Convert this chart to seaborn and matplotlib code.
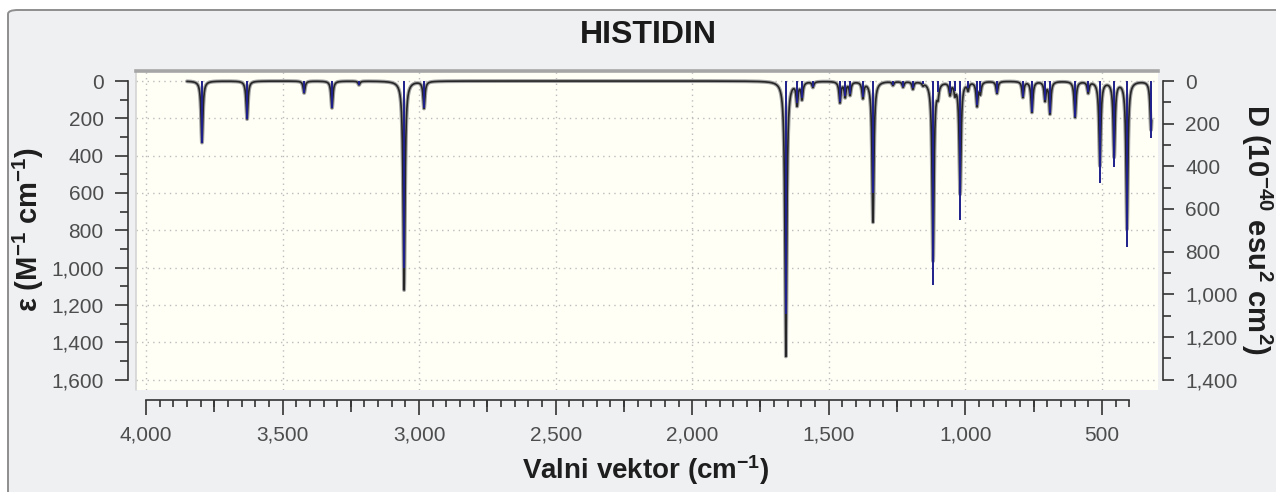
import numpy as np
import pandas as pd
import matplotlib
matplotlib.use("Agg")
import matplotlib.pyplot as plt
import matplotlib.ticker as mticker
from matplotlib.patches import FancyBboxPatch
import seaborn as sns

# ---------------- data ----------------
title = "HISTIDIN"
x_label = r"Valni vektor (cm$^{\mathbf{-1}}$)"
y_label_left = r"ε (M$^{\mathbf{-1}}$ cm$^{\mathbf{-1}}$)"
y_label_right = r"D (10$^{\mathbf{-40}}$ esu$^{\mathbf{2}}$ cm$^{\mathbf{2}}$)"

peak_wavenumbers = [3795, 3630, 3421, 3319, 3220, 3055, 2982,
                    1657, 1616, 1598, 1558, 1459, 1440, 1422, 1375, 1338,
                    1265, 1228, 1192, 1155, 1118, 1100, 1056, 1038, 1019,
                    990, 957, 945, 884, 789, 756, 708, 690, 598, 550,
                    507, 455, 408, 320]
curve_eps = [330, 204, 64, 144, 20, 1120, 144,
             1474, 118, 90, 30, 112, 80, 70, 85, 755,
             20, 30, 40, 15, 960, 60, 65, 55, 600,
             40, 128, 60, 65, 85, 165, 100, 172, 193, 60,
             450, 400, 790, 260]
stick_eps = [330, 204, 64, 144, 20, 1000, 144,
             1250, 118, 90, 30, 112, 80, 70, 85, 600,
             20, 30, 40, 15, 1093, 60, 65, 55, 745,
             40, 128, 60, 65, 85, 165, 100, 172, 193, 60,
             545, 460, 890, 305]
spectrum_range = [3850, 318]
line_halfwidth = 4.0

x_major_ticks = [4000, 3500, 3000, 2500, 2000, 1500, 1000, 500]
x_mid_ticks = [3750, 3250, 2750, 2250, 1750, 1250, 750]
y_left_ticks = [0, 200, 400, 600, 800, 1000, 1200, 1400, 1600]
y_right_ticks = [0, 200, 400, 600, 800, 1000, 1200, 1400]

# ---------------- style ----------------
sns.set_style("white")
plt.rcParams["font.family"] = ["Liberation Sans", "DejaVu Sans"]
plt.rcParams["mathtext.fontset"] = "custom"
plt.rcParams["mathtext.rm"] = "Liberation Sans"
plt.rcParams["mathtext.bf"] = "Liberation Sans:bold"
plt.rcParams["mathtext.it"] = "Liberation Sans:italic"

W, H = 1276, 492
def fx(px):
    return px / W
def fy(py):
    return 1 - py / H

fig = plt.figure(figsize=(W / 100, H / 100), dpi=100)
fig.patch.set_facecolor("white")
frame = FancyBboxPatch((fx(8), -0.1), 1.2, fy(10) + 0.1,
                       boxstyle="round,pad=0,rounding_size=0.008",
                       transform=fig.transFigure, facecolor="#eef0f2",
                       edgecolor="#8e8e8e", lw=1.4, zorder=-5)
fig.patches.append(frame)

ax = fig.add_axes([fx(136), fy(390), fx(1158) - fx(136), fy(71) - fy(390)])
ax.set_facecolor("#fffff6")

# spectrum curve (Lorentzian broadening of the read peaks)
wn = np.linspace(spectrum_range[0], spectrum_range[1], 14000)
pos = np.array(peak_wavenumbers, dtype=float)[:, None]
amp = np.array(curve_eps, dtype=float)[:, None]
curve = (amp * line_halfwidth ** 2 / ((wn - pos) ** 2 + line_halfwidth ** 2)).sum(axis=0)
df = pd.DataFrame({"wn": wn, "eps": curve})
sns.lineplot(data=df, x="wn", y="eps", ax=ax, color="#a2a2a2", lw=2.8,
             sort=False, estimator=None, zorder=2)
sns.lineplot(data=df, x="wn", y="eps", ax=ax, color="#262626", lw=1.2,
             sort=False, estimator=None, zorder=3)
ax.vlines(peak_wavenumbers, 0, stick_eps, color="#1f1f8c", lw=1.4, zorder=4)

ax.set_xlabel("")
ax.set_ylabel("")
ax.set_xlim(4036.6, 294.4)
ax.set_ylim(1656, -53.6)

ax.set_xticks(x_major_ticks)
ax.set_xticks(np.arange(400, 4001, 50), minor=True)
ax.set_yticks(y_left_ticks)
ax.set_yticks(np.arange(0, 1601, 100), minor=True)
fmt = mticker.StrMethodFormatter("{x:,.0f}")
ax.xaxis.set_major_formatter(fmt)
ax.yaxis.set_major_formatter(fmt)

ax.grid(True, which="major", color="#bcbcbc", linestyle=(0, (1, 3)), lw=1.0)
ax.set_axisbelow(True)

spine_c = "#333333"
for s in ["left", "bottom"]:
    ax.spines[s].set_color(spine_c)
    ax.spines[s].set_linewidth(1.2)
ax.spines["left"].set_position(("outward", 5.8))
ax.spines["left"].set_bounds(0, 1600)
ax.spines["bottom"].set_position(("outward", 7.2))
ax.spines["bottom"].set_bounds(400, 4000)
ax.spines["right"].set_visible(False)
ax.spines["top"].set_color("#a6a6a6")
ax.spines["top"].set_linewidth(2.6)
ax.plot([0, 0], [0, 1], transform=ax.transAxes, color="#d4d4d4", lw=1.2, clip_on=False)

ax.tick_params(axis="y", which="major", direction="out", length=9.5, width=1.2,
               color=spine_c, labelsize=15, labelcolor="#4d4d4d", pad=8)
ax.tick_params(axis="y", which="minor", direction="out", length=6, width=1.2, color=spine_c)
ax.tick_params(axis="x", which="major", direction="out", length=10.5, width=1.2,
               color=spine_c, labelsize=15, labelcolor="#4d4d4d", pad=8)
ax.tick_params(axis="x", which="minor", direction="out", length=5, width=1.2, color=spine_c)

# medium ticks on the bottom axis
ax3 = ax.twiny()
ax3.set_xlim(ax.get_xlim())
ax3.xaxis.set_ticks_position("bottom")
ax3.spines["bottom"].set_position(("outward", 7.2))
for s in ax3.spines.values():
    s.set_visible(False)
ax3.set_xticks(x_mid_ticks)
ax3.set_xticklabels([])
ax3.tick_params(axis="x", which="major", direction="out", length=8.5, width=1.2, color=spine_c)
ax3.patch.set_visible(False)
ax3.grid(False)

# right axis (D)
ax2 = ax.twinx()
lo, hi = ax.get_ylim()
ax2.set_ylim(lo * 7 / 8, hi * 7 / 8)
for s in ["left", "top", "bottom"]:
    ax2.spines[s].set_visible(False)
ax2.spines["right"].set_position(("outward", 3.6))
ax2.spines["right"].set_bounds(0, 1400)
ax2.spines["right"].set_color(spine_c)
ax2.spines["right"].set_linewidth(1.2)
ax2.set_yticks(y_right_ticks)
ax2.set_yticks(np.arange(0, 1401, 100), minor=True)
ax2.yaxis.set_major_formatter(fmt)
ax2.tick_params(axis="y", which="major", direction="out", length=8, width=1.2,
                color=spine_c, labelsize=15, labelcolor="#4d4d4d", pad=8)
ax2.tick_params(axis="y", which="minor", direction="out", length=5.5, width=1.2, color=spine_c)
ax2.grid(False)
ax2.patch.set_visible(False)

# texts
fig.text(fx(648), fy(35), title, ha="center", va="center", fontsize=23,
         fontweight="bold", color="#1a1a1a")
fig.text(fx(646), fy(470), x_label, ha="center", va="center", fontsize=20,
         fontweight="bold", color="#1e1e1e")
fig.text(fx(28), fy(230), y_label_left, ha="center", va="center", rotation=90,
         fontsize=21, fontweight="bold", color="#1e1e1e")
fig.text(fx(1257), fy(229), y_label_right, ha="center", va="center", rotation=270,
         fontsize=21, fontweight="bold", color="#1e1e1e")

fig.savefig("out.png", dpi=100, facecolor=fig.get_facecolor())
